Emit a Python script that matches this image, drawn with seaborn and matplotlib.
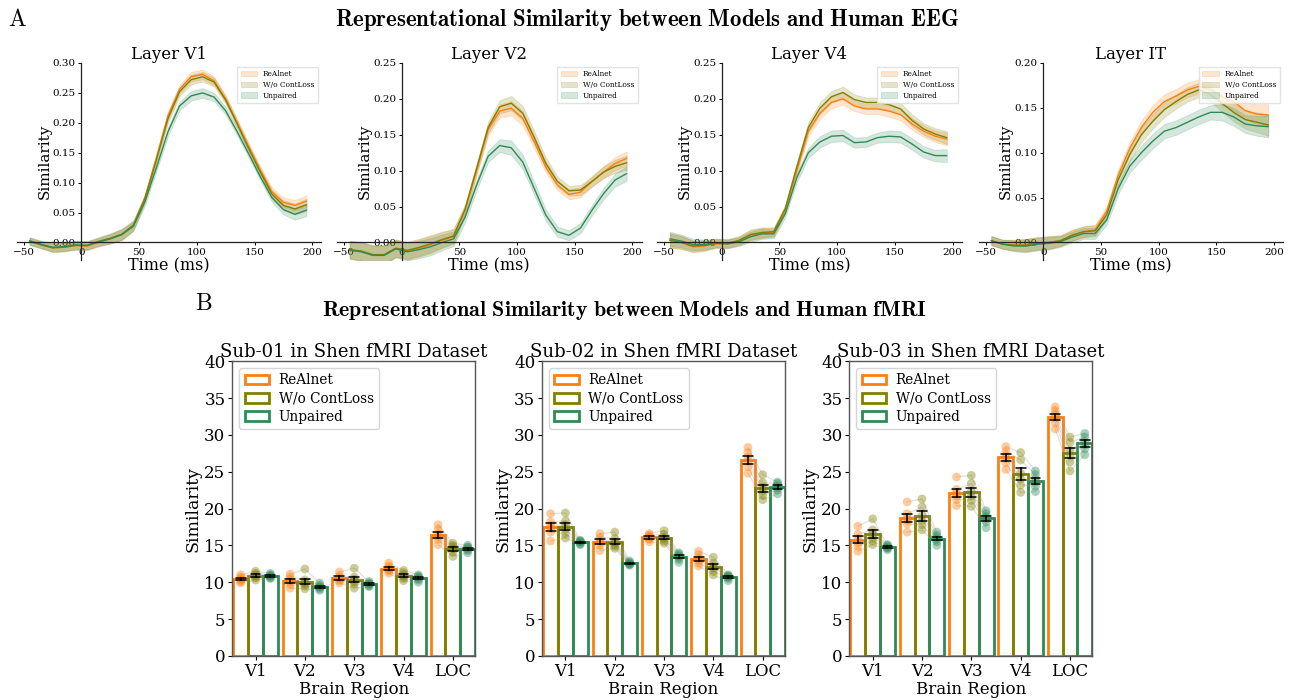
import numpy as np
import pandas as pd
import matplotlib
matplotlib.use("Agg")
import matplotlib.pyplot as plt
import seaborn as sns

# ---------------- data ----------------
models = ["ReAlnet", "W/o ContLoss", "Unpaired"]
colors = ["#ff7f0e", "#808000", "#2e8b57"]

time_ms = [-45, -35, -25, -15, -5, 5, 15, 25, 35, 45, 55, 65, 75, 85, 95,
           105, 115, 125, 135, 145, 155, 165, 175, 185, 195]

layers = ["V1", "V2", "V4", "IT"]

v1_realnet = [0.002, -0.004, -0.009, -0.008, -0.005, -0.006, 0.000, 0.006, 0.013, 0.028, 0.075, 0.142, 0.212,
              0.256, 0.277, 0.281, 0.270, 0.240, 0.200, 0.160, 0.121, 0.085, 0.067, 0.062, 0.069]
v1_wocont = [0.002, -0.004, -0.009, -0.008, -0.005, -0.005, 0.002, 0.007, 0.014, 0.029, 0.073, 0.138, 0.207,
             0.252, 0.272, 0.277, 0.268, 0.238, 0.198, 0.157, 0.118, 0.081, 0.062, 0.056, 0.063]
v1_unpaired = [0.003, -0.003, -0.008, -0.007, -0.004, -0.005, 0.001, 0.006, 0.013, 0.027, 0.068, 0.125, 0.185,
               0.228, 0.245, 0.250, 0.243, 0.220, 0.185, 0.148, 0.110, 0.075, 0.055, 0.047, 0.054]
v1_err = [0.006, 0.006, 0.007, 0.007, 0.007, 0.007, 0.007, 0.008, 0.009, 0.008, 0.006, 0.006, 0.007,
          0.007, 0.008, 0.008, 0.007, 0.006, 0.006, 0.006, 0.006, 0.007, 0.008, 0.009, 0.010]

v2_realnet = [-0.010, -0.012, -0.017, -0.017, -0.008, -0.012, -0.008, -0.003, 0.003, 0.008, 0.045, 0.100, 0.157,
              0.183, 0.187, 0.173, 0.140, 0.105, 0.080, 0.067, 0.070, 0.085, 0.098, 0.110, 0.117]
v2_wocont = [-0.010, -0.012, -0.017, -0.017, -0.008, -0.011, -0.007, -0.002, 0.004, 0.009, 0.046, 0.103, 0.160,
             0.189, 0.194, 0.180, 0.146, 0.110, 0.085, 0.072, 0.073, 0.085, 0.098, 0.106, 0.111]
v2_unpaired = [-0.011, -0.013, -0.018, -0.018, -0.009, -0.013, -0.010, -0.006, 0.000, 0.005, 0.035, 0.080, 0.120,
               0.135, 0.132, 0.112, 0.075, 0.038, 0.015, 0.010, 0.020, 0.045, 0.068, 0.087, 0.096]
v2_err = [0.012, 0.013, 0.013, 0.013, 0.012, 0.012, 0.012, 0.012, 0.011, 0.010, 0.007, 0.007, 0.008,
          0.009, 0.010, 0.010, 0.009, 0.008, 0.007, 0.007, 0.007, 0.007, 0.008, 0.009, 0.010]

v4_realnet = [0.003, 0.000, -0.006, -0.005, -0.002, -0.002, 0.002, 0.010, 0.013, 0.014, 0.045, 0.100, 0.155,
              0.180, 0.195, 0.200, 0.190, 0.186, 0.186, 0.183, 0.178, 0.165, 0.155, 0.148, 0.144]
v4_wocont = [0.003, 0.000, -0.005, -0.004, -0.001, -0.001, 0.003, 0.011, 0.014, 0.015, 0.047, 0.105, 0.160,
             0.187, 0.203, 0.209, 0.199, 0.195, 0.195, 0.192, 0.186, 0.170, 0.158, 0.151, 0.146]
v4_unpaired = [0.005, 0.002, -0.003, -0.003, -0.001, -0.002, 0.001, 0.008, 0.012, 0.012, 0.040, 0.090, 0.125,
               0.140, 0.148, 0.149, 0.139, 0.140, 0.146, 0.148, 0.147, 0.137, 0.126, 0.121, 0.121]
v4_err = [0.010, 0.009, 0.008, 0.007, 0.006, 0.006, 0.006, 0.007, 0.007, 0.006, 0.005, 0.006, 0.007,
          0.008, 0.008, 0.008, 0.007, 0.007, 0.007, 0.008, 0.008, 0.008, 0.008, 0.008, 0.009]

it_realnet = [0.002, -0.002, -0.003, -0.003, -0.001, 0.000, 0.002, 0.008, 0.012, 0.014, 0.035, 0.075, 0.105,
              0.128, 0.145, 0.157, 0.163, 0.170, 0.174, 0.170, 0.162, 0.157, 0.147, 0.143, 0.142]
it_wocont = [0.002, -0.002, -0.003, -0.003, -0.001, 0.000, 0.002, 0.008, 0.012, 0.013, 0.031, 0.070, 0.098,
             0.120, 0.135, 0.148, 0.157, 0.165, 0.170, 0.165, 0.155, 0.145, 0.137, 0.134, 0.131]
it_unpaired = [0.002, -0.002, -0.004, -0.004, -0.002, -0.001, 0.001, 0.006, 0.010, 0.010, 0.025, 0.060, 0.085,
               0.100, 0.113, 0.124, 0.128, 0.134, 0.140, 0.145, 0.145, 0.140, 0.132, 0.130, 0.129]
it_err = [0.005, 0.005, 0.006, 0.007, 0.007, 0.007, 0.006, 0.006, 0.006, 0.006, 0.005, 0.006, 0.007,
          0.008, 0.008, 0.008, 0.008, 0.008, 0.008, 0.008, 0.009, 0.010, 0.010, 0.011, 0.012]

layer_ylim_top = [0.30, 0.25, 0.25, 0.20]

regions = ["V1", "V2", "V3", "V4", "LOC"]

# fMRI per-model similarity values (one list per region)
sub01_realnet = [[9.9, 10.1, 10.3, 10.5, 10.7, 11.0], [9.2, 9.7, 10.1, 10.4, 10.7, 11.1],
                 [9.9, 10.2, 10.4, 10.6, 10.9, 11.4], [11.2, 11.5, 11.7, 11.9, 12.2, 12.6],
                 [15.1, 15.8, 16.2, 16.6, 17.2, 17.8]]
sub01_wocont = [[10.3, 10.6, 10.8, 11.0, 11.2, 11.5], [9.1, 9.5, 9.8, 10.0, 10.3, 11.8],
                [9.2, 9.8, 10.1, 10.4, 10.7, 11.9], [10.2, 10.5, 10.8, 11.0, 11.3, 11.6],
                [13.5, 14.1, 14.5, 14.8, 15.0, 15.3]]
sub01_unpaired = [[10.5, 10.6, 10.8, 10.9, 11.0, 11.2], [8.9, 9.1, 9.3, 9.4, 9.6, 9.9],
                  [9.4, 9.5, 9.7, 9.8, 9.9, 10.1], [10.0, 10.3, 10.5, 10.7, 10.8, 11.0],
                  [14.0, 14.3, 14.5, 14.7, 14.8, 15.0]]

sub02_realnet = [[15.6, 16.8, 17.3, 17.7, 18.2, 19.3], [14.3, 15.0, 15.4, 15.7, 16.1, 16.6],
                 [15.5, 15.8, 16.0, 16.2, 16.4, 16.6], [12.2, 12.6, 13.0, 13.3, 13.7, 14.2],
                 [24.8, 25.7, 26.4, 27.0, 27.6, 28.3]]
sub02_wocont = [[16.0, 16.6, 17.2, 17.8, 18.3, 19.4], [14.6, 14.9, 15.2, 15.5, 15.9, 16.8],
                [15.3, 15.6, 15.9, 16.1, 16.5, 17.0], [11.0, 11.5, 11.9, 12.2, 12.6, 13.4],
                [21.2, 21.8, 22.4, 22.9, 23.5, 24.6]]
sub02_unpaired = [[15.1, 15.2, 15.4, 15.5, 15.6, 15.7], [12.3, 12.4, 12.5, 12.6, 12.7, 12.9],
                  [12.7, 13.1, 13.4, 13.6, 13.8, 14.0], [10.2, 10.5, 10.7, 10.8, 10.9, 11.0],
                  [22.0, 22.5, 22.8, 23.1, 23.4, 23.6]]

sub03_realnet = [[14.2, 14.9, 15.4, 15.9, 16.5, 17.6], [16.8, 17.9, 18.4, 18.8, 19.3, 20.9],
                 [20.4, 21.2, 21.7, 22.1, 22.6, 24.3], [25.3, 26.2, 26.8, 27.2, 27.8, 28.4],
                 [30.8, 31.6, 32.3, 32.8, 33.3, 33.8]]
sub03_wocont = [[15.1, 15.6, 16.1, 16.6, 17.1, 18.6], [17.1, 17.8, 18.4, 19.0, 20.2, 21.3],
                [20.3, 21.1, 21.7, 22.3, 23.4, 24.5], [22.2, 23.2, 24.0, 24.8, 26.6, 27.6],
                [25.1, 26.3, 27.2, 27.9, 29.0, 29.7]]
sub03_unpaired = [[14.4, 14.6, 14.7, 14.8, 15.0, 15.1], [15.0, 15.5, 15.8, 16.1, 16.4, 16.8],
                  [17.4, 18.2, 18.6, 18.9, 19.3, 19.7], [22.3, 23.0, 23.6, 24.0, 24.6, 25.1],
                  [27.3, 28.1, 28.6, 29.1, 29.7, 30.2]]

subjects = ["Sub-01", "Sub-02", "Sub-03"]

# ---------------- style ----------------
sns.set_style("ticks")
plt.rcParams["font.family"] = ["DejaVu Serif"]
plt.rcParams["mathtext.fontset"] = "cm"
plt.rcParams["text.color"] = "black"
plt.rcParams["axes.labelcolor"] = "black"
plt.rcParams["xtick.color"] = "black"
plt.rcParams["ytick.color"] = "black"

fig = plt.figure(figsize=(12.91, 7.0), dpi=100)

# ---------------- top row: EEG ----------------
eeg_series = [
    (v1_realnet, v1_wocont, v1_unpaired, v1_err),
    (v2_realnet, v2_wocont, v2_unpaired, v2_err),
    (v4_realnet, v4_wocont, v4_unpaired, v4_err),
    (it_realnet, it_wocont, it_unpaired, it_err),
]
top_lefts = [0.013, 0.261, 0.509, 0.758]
ybottoms = [-0.03, -0.025, -0.025, -0.02]
t = np.array(time_ms)
for k, ax_left in enumerate(top_lefts):
    ax = fig.add_axes([ax_left, 0.628, 0.236, 0.282])
    r, w, u, e = eeg_series[k]
    e = np.array(e)
    for vals, name, c in zip((r, w, u), models, colors):
        vals = np.array(vals)
        ax.fill_between(t, vals - e, vals + e, color=c, alpha=0.2, linewidth=0.6, label=name)
        sns.lineplot(x=t, y=vals, color=c, linewidth=1.0, ax=ax)
    ax.set_xlim(-56, 208)
    ax.set_ylim(ybottoms[k], layer_ylim_top[k])
    yt = np.arange(0, layer_ylim_top[k] + 1e-9, 0.05)
    ax.set_yticks(yt)
    ax.set_yticklabels([f"{v:.2f}" for v in yt])
    ax.set_xticks([-50, 0, 50, 100, 150, 200])
    ax.spines["left"].set_position(("data", 0))
    ax.spines["bottom"].set_position(("data", 0))
    ax.spines["right"].set_visible(False)
    ax.spines["top"].set_visible(False)
    for sp in ("left", "bottom"):
        ax.spines[sp].set_color("#222222")
        ax.spines[sp].set_linewidth(0.9)
    ax.tick_params(labelsize=7.5, length=2.5, width=0.7, pad=1.5)
    ax.set_title(f"Layer {layers[k]}", fontsize=12, pad=3)
    ax.set_xlabel("Time (ms)", fontsize=11.5, labelpad=0)
    ax.set_ylabel("Similarity", fontsize=11, labelpad=1)
    ax.legend(loc="upper right", fontsize=5.3, frameon=True, handlelength=2.2,
              borderpad=0.5, labelspacing=0.35, edgecolor="#dddddd", fancybox=False)

# ---------------- bottom row: fMRI ----------------
fmri_sets = [
    (sub01_realnet, sub01_wocont, sub01_unpaired),
    (sub02_realnet, sub02_wocont, sub02_unpaired),
    (sub03_realnet, sub03_wocont, sub03_unpaired),
]
bot_lefts = [0.180, 0.420, 0.658]
bar_w = 0.9
for s, ax_left in enumerate(bot_lefts):
    ax = fig.add_axes([ax_left, 0.063, 0.188, 0.421])
    rows = []
    for m_i, (name, per_region) in enumerate(zip(models, fmri_sets[s])):
        for r_i, reg in enumerate(regions):
            for p_i, v in enumerate(per_region[r_i]):
                rows.append({"region": reg, "model": name, "sim": v, "item": p_i,
                             "xpos": r_i + (m_i - 1) * bar_w / 3})
    df = pd.DataFrame(rows)
    sns.barplot(data=df, x="region", y="sim", hue="model", order=regions, hue_order=models,
                palette=colors, fill=False, width=bar_w, gap=0, errorbar="se", capsize=0.6,
                linewidth=2.0, err_kws={"color": "black", "linewidth": 1.1}, ax=ax)
    # make the line-art bars touch each other within a group
    for p in ax.patches:
        cx = p.get_x() + p.get_width() / 2
        p.set_width(bar_w / 3)
        p.set_x(cx - bar_w / 6)
    err_lines = list(ax.lines)
    # connecting lines between models
    for reg in regions:
        sub = df[df.region == reg]
        for it_, g in sub.groupby("item"):
            g = g.set_index("model").loc[models]
            ax.plot(g["xpos"].values, g["sim"].values, color="#999999", alpha=0.3,
                    linewidth=0.9, zorder=2)
    for m_i, name in enumerate(models):
        d = df[df.model == name]
        ax.scatter(d["xpos"], d["sim"], s=40, color=colors[m_i], alpha=0.4,
                   edgecolor="none", zorder=3)
    for ln in err_lines:
        ln.set_zorder(5)
    ax.set_ylim(0, 40)
    ax.set_yticks(range(0, 41, 5))
    ax.set_xlim(-0.47, 4.45)
    for sp in ax.spines.values():
        sp.set_visible(True)
        sp.set_color("#555555")
        sp.set_linewidth(1.0)
    ax.tick_params(labelsize=12, length=3, pad=2)
    ax.set_title(f"{subjects[s]} in Shen fMRI Dataset", fontsize=13, pad=3)
    ax.set_xlabel("Brain Region", fontsize=12, labelpad=1)
    ax.set_ylabel("Similarity", fontsize=12.5, labelpad=2)
    ax.legend(loc="upper left", fontsize=9.8, frameon=True, title=None,
              handlelength=1.8, handletextpad=0.7, labelspacing=0.3, edgecolor="#cccccc")

# ---------------- headings ----------------
fig.text(0.006, 0.972, r"$\mathrm{A}$", fontsize=17, va="center", ha="left")
fig.text(0.501, 0.971, r"$\mathbf{Representational\ Similarity\ between\ Models\ and\ Human\ EEG}$",
         fontsize=16.5, ha="center", va="center")
fig.text(0.151, 0.566, r"$\mathrm{B}$", fontsize=17, va="center", ha="left")
fig.text(0.484, 0.557, r"$\mathbf{Representational\ Similarity\ between\ Models\ and\ Human\ fMRI}$",
         fontsize=15.8, ha="center", va="center")

fig.savefig("out.png", dpi=100)
